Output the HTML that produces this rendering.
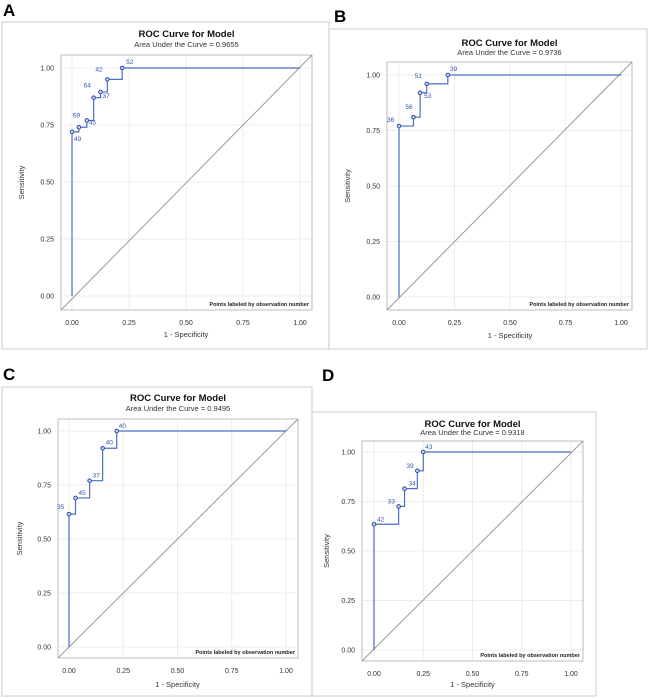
<!DOCTYPE html>
<html><head><meta charset="utf-8">
<style>
body{margin:0;background:#fff;}
svg{display:block;font-family:"Liberation Sans",Arial,sans-serif;}
</style></head>
<body>
<svg id="fig" width="650" height="698" viewBox="0 0 650 698"></svg>
<script>
// Panel A data
const aFpr = [0, 0.03, 0.065, 0.095, 0.125, 0.155, 0.22];
const aTpr = [0.72, 0.74, 0.77, 0.87, 0.895, 0.95, 1.0];
const aLabels = ["49", "69", "45", "64", "37", "42", "52"];
const aAuc = "0.9655";
// Panel B data
const bFpr = [0, 0.065, 0.095, 0.125, 0.22];
const bTpr = [0.77, 0.81, 0.92, 0.96, 1.0];
const bLabels = ["36", "56", "53", "51", "39"];
const bAuc = "0.9736";
// Panel C data
const cFpr = [0, 0.03, 0.095, 0.155, 0.22];
const cTpr = [0.615, 0.69, 0.77, 0.92, 1.0];
const cLabels = ["35", "45", "37", "40", "40"];
const cAuc = "0.9495";
// Panel D data
const dFpr = [0, 0.125, 0.155, 0.22, 0.25];
const dTpr = [0.635, 0.725, 0.815, 0.905, 1.0];
const dLabels = ["42", "33", "34", "39", "43"];
const dAuc = "0.9318";
const tickVals = [0, 0.25, 0.5, 0.75, 1.0];
const tickText = ["0.00", "0.25", "0.50", "0.75", "1.00"];

const NS = "http://www.w3.org/2000/svg";
const svg = document.getElementById("fig");
function mk(tag, attrs, parent, text) {
  const e = document.createElementNS(NS, tag);
  for (const k in attrs) e.setAttribute(k, attrs[k]);
  if (text !== undefined) e.textContent = text;
  (parent || svg).appendChild(e);
  return e;
}

// label offsets per panel (dx, dy in px relative to point)
const offA = [[2,9],[-6,-10],[2,4],[-10,-10],[2,6],[-12,-8],[4,-4]];
const offB = [[-12,-4],[-8,-8],[4,5],[-12,-6],[2,-4]];
const offC = [[-12,-5],[3,-3],[3,-3],[3,-4],[2,-3]];
const offD = [[3,-3],[-11,-3],[4,-3],[-11,-3],[2,-3]];

function panel(cfg, fpr, tpr, labels, auc, offs) {
  const g = mk("g", {}, svg);
  
  
  const fr = mk("rect", {x:cfg.fx, y:cfg.fy, width:cfg.fw, height:cfg.fh, fill:"none", stroke:"#d4d4d4", "stroke-width":1.2}, g);
  
  
  const pl = mk("text", {x:cfg.lx, y:cfg.ly, "font-size":17, "font-weight":"bold", fill:"#000"}, g, cfg.id);
  
  
  const sx = v => cfg.x0 + v * (cfg.x1 - cfg.x0);
  const sy = v => cfg.y0 + v * (cfg.y1 - cfg.y0);
  const cx = (cfg.pl + cfg.pr) / 2;
  const t = mk("text", {x:cx, y:cfg.ty, "font-size":9.5, "font-weight":"bold", "text-anchor":"middle", fill:"#111"}, g, "ROC Curve for Model");
  
  
  const st = mk("text", {x:cx, y:cfg.sty, "font-size":7.5, "text-anchor":"middle", fill:"#333"}, g, "Area Under the Curve = " + auc);
  
  
  // grid
  tickVals.forEach((v, i) => {
    const gx = mk("line", {x1:sx(v), x2:sx(v), y1:cfg.pt, y2:cfg.pb, stroke:"#ececec", "stroke-width":1}, g);
    
    
    const gy = mk("line", {x1:cfg.pl, x2:cfg.pr, y1:sy(v), y2:sy(v), stroke:"#ececec", "stroke-width":1}, g);
    
    
    const xt = mk("text", {x:sx(v), y:cfg.xty, "font-size":7, "text-anchor":"middle", fill:"#333"}, g, tickText[i]);
    
    
    const yt = mk("text", {x:cfg.pl - 7, y:sy(v) + 2.5, "font-size":7, "text-anchor":"end", fill:"#333"}, g, tickText[i]);
    
    
  });
  const pa = mk("rect", {x:cfg.pl, y:cfg.pt, width:cfg.pr - cfg.pl, height:cfg.pb - cfg.pt, fill:"none", stroke:"#bdbdbd", "stroke-width":1}, g);
  
  
  const diag = mk("line", {x1:cfg.pl, y1:cfg.pb, x2:cfg.pr, y2:cfg.pt, stroke:"#9a9a9a", "stroke-width":1}, g);
  
  
  // step path
  let d = "M" + sx(0) + "," + sy(0);
  let px = 0;
  for (let i = 0; i < fpr.length; i++) {
    d += " L" + sx(fpr[i]) + "," + sy(i === 0 ? tpr[0] : tpr[i - 1]);
    d += " L" + sx(fpr[i]) + "," + sy(tpr[i]);
  }
  d += " L" + sx(1) + "," + sy(1);
  const curve = mk("path", {d:d, fill:"none", stroke:"#4a6fc4", "stroke-width":1.2}, g);
  
  
  for (let i = 0; i < fpr.length; i++) {
    const c = mk("circle", {cx:sx(fpr[i]), cy:sy(tpr[i]), r:1.8, fill:"#c9d4f0", stroke:"#2f4fa8", "stroke-width":1}, g);
    
    
    const o = offs[i] || [2, -3];
    const l = mk("text", {x:sx(fpr[i]) + o[0], y:sy(tpr[i]) + o[1], "font-size":6.5, fill:"#3555b0"}, g, labels[i]);
    
    
  }
  const fn = mk("text", {x:cfg.pr - 3, y:cfg.pb - 4, "font-size":5.5, "font-weight":"bold", "text-anchor":"end", fill:"#222"}, g, "Points labeled by observation number");
  
  
  const xa = mk("text", {x:sx(0.5), y:cfg.xay, "font-size":7.5, "text-anchor":"middle", fill:"#333"}, g, "1 - Specificity");
  
  
  const ym = (cfg.pt + cfg.pb) / 2;
  const ya = mk("text", {x:cfg.yax, y:ym, "font-size":7.5, "text-anchor":"middle", fill:"#333", transform:"rotate(-90 " + cfg.yax + " " + ym + ")"}, g, "Sensitivity");
  
  
}

panel({id:"A", fx:2, fy:22, fw:327, fh:327, lx:3, ly:16, pl:61, pr:312, pt:55, pb:310, x0:72, x1:300, y0:296, y1:68, ty:37, sty:47, xty:325, xay:337, yax:24}, aFpr, aTpr, aLabels, aAuc, offA);
panel({id:"B", fx:329, fy:29, fw:318, fh:320, lx:334, ly:22, pl:387, pr:632, pt:62, pb:310, x0:399, x1:621, y0:297, y1:75, ty:46, sty:55, xty:325, xay:338, yax:350}, bFpr, bTpr, bLabels, bAuc, offB);
panel({id:"C", fx:2, fy:387, fw:310, fh:309, lx:3, ly:380, pl:58, pr:298, pt:419, pb:658, x0:69, x1:286, y0:647, y1:431, ty:401, sty:411, xty:673, xay:687, yax:22}, cFpr, cTpr, cLabels, cAuc, offC);
panel({id:"D", fx:312, fy:412, fw:284, fh:284, lx:322, ly:381, pl:362, pr:583, pt:441, pb:661, x0:374, x1:571, y0:650, y1:452, ty:427, sty:435, xty:676, xay:687, yax:329}, dFpr, dTpr, dLabels, dAuc, offD);
</script>
</body></html>
